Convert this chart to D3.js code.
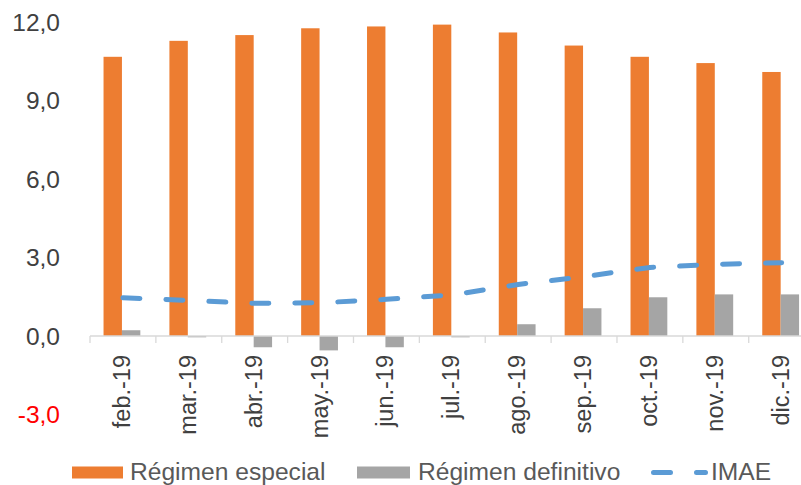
<!DOCTYPE html>
<html>
<head>
<meta charset="utf-8">
<script src="https://cdn.jsdelivr.net/npm/d3@7"></script>
<style>
  body { margin: 0; background: #fff; }
  svg { display: block; font-family: "Liberation Sans", Arial, sans-serif; }
</style>
</head>
<body>
<div id="chart"></div>
<script>
const months = ["feb.-19", "mar.-19", "abr.-19", "may.-19", "jun.-19", "jul.-19",
  "ago.-19", "sep.-19", "oct.-19", "nov.-19", "dic.-19"];
const especial = [10.67, 11.28, 11.5, 11.76, 11.83, 11.9, 11.6, 11.1, 10.67, 10.43, 10.09];
const definitivo = [0.22, -0.05, -0.43, -0.55, -0.43, -0.05, 0.45, 1.06, 1.48, 1.59, 1.59];
const imae = [1.46, 1.36, 1.25, 1.27, 1.40, 1.57, 1.97, 2.27, 2.62, 2.74, 2.80];
const yTicks = [-3, 0, 3, 6, 9, 12];

const width = 801, height = 485;

const svg = d3.select("#chart").append("svg")
  .attr("width", width)
  .attr("height", height);

const x = d3.scaleBand().domain(months).range([90, 814.6]);
const xSub = d3.scaleBand().domain(["esp", "def"]).range([-1, x.bandwidth() - 1]).paddingOuter(0.79);
const y = d3.scaleLinear().domain([-3, 12]).range([414.5, 22]);

const fmt = (v) => v.toFixed(1).replace(".", ",");

// y labels (no axis line, no gridlines)
svg.append("g")
  .selectAll("text")
  .data(yTicks)
  .join("text")
  .attr("x", 60)
  .attr("y", (d) => y(d))
  .attr("dy", "0.35em")
  .attr("text-anchor", "end")
  .attr("font-size", 24.5)
  .attr("fill", (d) => (d < 0 ? "#ff0000" : "#404040"))
  .text(fmt);

// bars
const groups = svg.append("g")
  .selectAll("g")
  .data(months)
  .join("g")
  .attr("transform", (d) => `translate(${x(d)},0)`);

groups.append("rect")
  .attr("x", xSub("esp"))
  .attr("width", xSub.bandwidth())
  .attr("y", (d, i) => y(Math.max(0, especial[i])))
  .attr("height", (d, i) => Math.abs(y(especial[i]) - y(0)))
  .attr("fill", "#ed7d31");

groups.append("rect")
  .attr("x", xSub("def"))
  .attr("width", xSub.bandwidth())
  .attr("y", (d, i) => y(Math.max(0, definitivo[i])))
  .attr("height", (d, i) => Math.abs(y(definitivo[i]) - y(0)))
  .attr("fill", "#a5a5a5");

// x axis at zero
const xAxis = svg.append("g");
xAxis.append("line")
  .attr("x1", x.range()[0]).attr("x2", x.range()[1])
  .attr("y1", y(0)).attr("y2", y(0))
  .attr("stroke", "#d9d9d9").attr("stroke-width", 1.3);

xAxis.selectAll(".tick")
  .data(months)
  .join("line")
  .attr("x1", (d) => x(d)).attr("x2", (d) => x(d))
  .attr("y1", y(0)).attr("y2", y(0) + 7)
  .attr("stroke", "#d9d9d9").attr("stroke-width", 1.3);

xAxis.selectAll("text")
  .data(months)
  .join("text")
  .attr("transform", (d) => `translate(${x(d) + x.bandwidth() / 2},355) rotate(-90)`)
  .attr("dy", "0.3em")
  .attr("text-anchor", "end")
  .attr("font-size", 23.5)
  .attr("fill", "#404040")
  .text((d) => d);

// IMAE line
const line = d3.line()
  .x((d, i) => x(months[i]) + x.bandwidth() / 2)
  .y((d) => y(d));

svg.append("path")
  .datum(imae)
  .attr("d", line)
  .attr("fill", "none")
  .attr("stroke", "#5b9bd5")
  .attr("stroke-width", 5)
  .attr("stroke-linecap", "round")
  .attr("stroke-dasharray", "17,26");

// legend
const legend = svg.append("g").attr("font-size", 24.6).attr("fill", "#595959");

legend.append("rect").attr("x", 72).attr("y", 466.5).attr("width", 51).attr("height", 12).attr("fill", "#ed7d31");
legend.append("text").attr("x", 130).attr("y", 479.5).text("Régimen especial");

legend.append("rect").attr("x", 357).attr("y", 466.5).attr("width", 53).attr("height", 12).attr("fill", "#a5a5a5");
legend.append("text").attr("x", 418).attr("y", 479.5).text("Régimen definitivo");

legend.append("line")
  .attr("x1", 653.5).attr("x2", 705.5)
  .attr("y1", 472.5).attr("y2", 472.5)
  .attr("stroke", "#5b9bd5")
  .attr("stroke-width", 5)
  .attr("stroke-linecap", "round")
  .attr("stroke-dasharray", "17,26");
legend.append("text").attr("x", 711).attr("y", 479.5).text("IMAE");
</script>
</body>
</html>
